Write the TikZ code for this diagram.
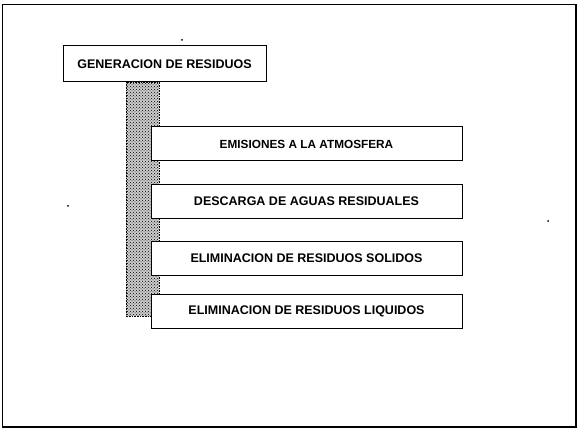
\documentclass[tikz,border=0pt]{standalone}
\usepackage{fontspec}
\setmainfont{Liberation Sans}
\usetikzlibrary{patterns}
\begin{document}
\begin{tikzpicture}[x=1pt,y=-1pt,
  box/.style={draw=black,line width=1pt,fill=white,rectangle,inner sep=0pt,
    font=\bfseries\fontsize{12.5}{14}\selectfont},
  wide/.style={box,minimum width=311pt,minimum height=34pt},
  speck/.style={fill=black,circle,inner sep=0pt,minimum size=2pt}]
\useasboundingbox (0,0) rectangle (578,430);
% outer frame
\draw[line width=1.3pt] (2.5,4.5) rectangle (576,427);
% top box
\node[box,minimum width=203pt,minimum height=36pt] (gen) at (164.5,64) {GENERACION DE RESIDUOS};
% stippled bar
\coordinate (bartop) at (126,82);
\coordinate (barbot) at (159,316);
\fill[gray!40] (bartop) rectangle (barbot);
\fill[pattern=crosshatch dots,pattern color=black] (bartop) rectangle (barbot);
\draw[densely dotted,line width=0.6pt] (bartop) rectangle (barbot);
% child boxes
\node[wide,font=\bfseries\fontsize{11.8}{14}\selectfont] (emi) at (306.5,144) {EMISIONES A LA ATMOSFERA};
\node[wide] (des) at (306.5,201.5) {DESCARGA DE AGUAS RESIDUALES};
\node[wide] (sol) at (306.5,258.5) {ELIMINACION DE RESIDUOS SOLIDOS};
\node[wide] (liq) at (306.5,311) {ELIMINACION DE RESIDUOS LIQUIDOS};
% specks
\node[speck] (s1) at (182,40) {};
\node[speck] (s2) at (68,206) {};
\node[speck] (s3) at (548,221) {};
\end{tikzpicture}
\end{document}
